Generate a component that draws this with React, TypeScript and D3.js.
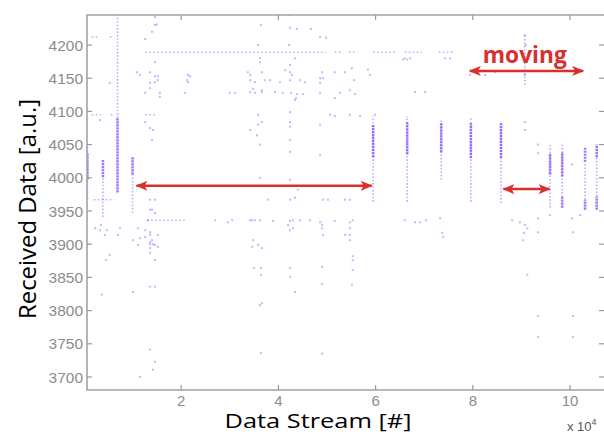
import React from 'react';
import * as d3 from 'd3';

// x in units of 10^4 samples, y in a.u.
const xTicks = [2, 4, 6, 8, 10];
const yTicks = [3700, 3750, 3800, 3850, 3900, 3950, 4000, 4050, 4100, 4150, 4200];

// dense vertical bursts: [x, yLow, yHigh]
const bursts = [
  [0.07, 3997, 4037], [0.39, 4001, 4028], [0.69, 3978, 4090], [1.0, 4005, 4031],
  [5.95, 4031, 4080], [6.65, 4035, 4084], [7.35, 4038, 4082], [7.96, 4030, 4082],
  [8.58, 4030, 4082], [9.59, 4005, 4037], [9.84, 4002, 4039], [9.84, 3955, 3971],
  [10.31, 4024, 4046], [10.31, 3952, 3967], [10.55, 4031, 4050], [10.55, 3952, 3972],
];

// sparse vertical trails: [x, yLow, yHigh]
const trails = [
  [0.07, 3967, 4050], [0.39, 3941, 4001], [0.69, 4090, 4245], [1.0, 3947, 4005],
  [5.95, 3964, 4093], [6.65, 3964, 4093], [7.35, 3997, 4088], [7.96, 3964, 4090],
  [8.58, 3962, 4085], [9.59, 3955, 4052], [9.84, 3971, 4053], [10.31, 3967, 4024],
  [10.55, 3972, 4031], [9.07, 4140, 4215],
];

// dotted horizontal rows: [y, xStart, xEnd]
const rows = [
  [4189, 1.26, 4.98], [4189, 5.16, 5.32], [4189, 5.45, 5.62], [4189, 5.95, 6.45],
  [4189, 6.6, 6.95], [4189, 7.3, 7.6], [4212, 0.16, 0.3], [4212, 0.53, 0.6],
  [4095, 0.16, 0.35], [4095, 0.55, 0.62], [4095, 1.26, 1.46], [3967, 0.2, 0.62],
  [3936, 1.3, 2.1], [4178, 6.55, 6.7],
];

// scattered single readings: [x, y]
const scatter = [
  [1.26, 4209], [1.46, 4242], [1.46, 4230], [1.5, 4231], [1.4, 4220], [1.46, 4174], [1.09, 4159],
  [1.15, 4155], [1.36, 4159], [1.46, 4153], [1.52, 4153], [0.53, 4143], [1.36, 4143], [1.46, 4144],
  [1.52, 4147], [1.36, 4135], [2.12, 4147], [2.14, 4144], [2.14, 4155], [2.18, 4153], [1.26, 4128],
  [1.56, 4128], [1.56, 4122], [2.08, 4128], [3.0, 4128],
  [3.64, 4230], [4.22, 4245], [4.24, 4226], [4.38, 4224], [4.67, 4224], [4.86, 4212], [4.98, 4211],
  [3.58, 4200], [4.22, 4200], [3.62, 4180], [3.62, 4174], [4.34, 4180], [4.24, 4170], [3.37, 4159],
  [3.42, 4155], [3.66, 4159], [4.24, 4159], [4.28, 4155], [4.14, 4162], [4.86, 4150], [4.9, 4159],
  [5.16, 4159], [5.37, 4159], [5.56, 4147], [5.51, 4165], [5.88, 4155], [5.84, 4163], [4.86, 4143],
  [3.42, 4147], [3.52, 4144], [3.72, 4147], [3.83, 4147], [4.03, 4144], [4.24, 4147], [4.44, 4147],
  [4.55, 4144], [4.92, 4150],
  [3.11, 4128], [3.42, 4129], [3.52, 4128], [3.66, 4129], [3.93, 4129], [4.09, 4128], [4.26, 4128],
  [4.38, 4126], [4.51, 4126], [4.86, 4128], [5.27, 4128], [5.58, 4126], [3.48, 4134], [3.66, 4132],
  [4.34, 4117], [4.36, 4120], [5.16, 4120], [5.47, 4132],
  [3.58, 4095], [4.24, 4099], [5.06, 4095], [5.16, 4093], [5.47, 4095], [5.68, 4093], [5.99, 4095],
  [0.33, 4087], [1.26, 4084], [1.36, 4075], [1.42, 4072], [1.4, 4057],
  [1.36, 3967], [1.46, 3967], [1.36, 3952], [1.4, 3952], [1.46, 3947], [1.32, 3936], [1.26, 3921],
  [1.36, 3918], [2.7, 3936], [3.05, 3936],
  [0.23, 3924], [0.33, 3921], [0.35, 3929], [0.47, 3921], [0.74, 3924], [0.7, 3914], [1.11, 3924],
  [1.15, 3909], [1.26, 3911], [1.36, 3903], [1.46, 3899], [1.36, 3894], [1.52, 3896], [1.4, 3906],
  [1.52, 3914], [1.36, 3900], [1.42, 3900], [1.36, 3914], [1.01, 3906], [1.11, 3899], [0.43, 3914],
  [0.45, 3876], [0.53, 3884], [1.36, 3887], [1.46, 3876], [1.36, 3836], [1.46, 3836], [1.01, 3828],
  [0.37, 3824], [1.36, 3741], [1.46, 3723], [1.42, 3711], [1.15, 3700],
  [3.42, 4072], [3.56, 4064], [3.58, 4080], [3.66, 4084], [4.24, 4084], [4.24, 4077], [4.86, 4080],
  [3.62, 4050], [4.24, 4057], [4.24, 4039], [4.86, 4034], [3.62, 4000], [4.24, 3997], [4.4, 3982],
  [4.24, 3967], [4.34, 3970], [4.92, 3967], [5.02, 3967], [5.37, 3967], [5.47, 3967], [3.79, 3967],
  [2.96, 3933], [3.46, 3936], [3.62, 3936], [3.89, 3935], [4.24, 3935], [4.3, 3936], [4.86, 3933],
  [5.16, 3935], [5.47, 3933], [5.53, 3936], [3.42, 3936], [3.52, 3936], [4.44, 3936], [4.65, 3936],
  [4.2, 3929], [4.24, 3921], [4.3, 3924], [4.9, 3929], [4.9, 3924], [4.92, 3914], [5.47, 3924],
  [5.47, 3914], [5.47, 3906], [5.37, 3914], [3.48, 3906], [3.58, 3899], [3.46, 3896], [3.66, 3894],
  [3.5, 3864], [3.64, 3864], [4.24, 3864], [4.9, 3866], [5.53, 3882], [5.53, 3876], [3.64, 3854],
  [4.24, 3851], [4.9, 3840], [5.51, 3839], [5.53, 3861], [4.34, 3828], [3.62, 3808], [3.66, 3811],
  [3.64, 3736], [4.9, 3735],
  [6.6, 4180], [6.71, 4180], [7.43, 4180], [7.53, 4180], [9.07, 4215], [9.09, 4200], [9.07, 4162],
  [9.07, 4155], [7.94, 4155], [8.25, 4155], [8.46, 4159], [6.81, 4129], [7.02, 4129], [9.9, 4174],
  [9.07, 4084], [9.07, 4072], [9.34, 4050], [9.34, 4037], [10.04, 4020],
  [6.6, 3936], [6.81, 3933], [6.91, 3933], [7.04, 3936], [7.33, 3939], [7.37, 3917], [7.39, 3911],
  [8.81, 3936], [8.97, 3933], [9.07, 3929], [9.12, 3924], [9.05, 3917], [9.03, 3906], [9.34, 3939],
  [9.34, 3918], [9.59, 3944], [10.04, 3939], [10.06, 3918], [10.21, 3944],
  [9.12, 3854], [9.34, 3792], [10.06, 3792], [9.34, 3760], [10.06, 3760],
];

// red annotation arrows: [xStart, xEnd, y]
const arrows = [[1.08, 5.92, 3988], [7.94, 10.27, 4161], [8.63, 9.58, 3983]];

const W = 604, H = 435;
const left = 87, top = 15, right = 605, bottom = 390;
const purple = '#7a44ff';
const red = '#d8302d';
const gray = '#8c8c8c';

export default function App() {
  const x = d3.scaleLinear().domain([0.062, 10.72]).range([left, right]);
  const y = d3.scaleLinear().domain([3680.4, 4245.2]).range([bottom, top]);

  return (
    <svg width={W} height={H} style={{ position: 'absolute', left: 0, top: 0, background: '#fff' }}
      fontFamily="'Liberation Sans', Arial, sans-serif">
      <defs>
        <marker id="head" viewBox="0 0 12 10" refX="11" refY="5" markerWidth="12" markerHeight="10"
          markerUnits="userSpaceOnUse" orient="auto-start-reverse">
          <path d="M0,0 L12,5 L0,10 L3,5 Z" fill={red} />
        </marker>
        <clipPath id="plot">
          <rect x={left} y={top} width={right - left} height={bottom - top} />
        </clipPath>
      </defs>

      <g clipPath="url(#plot)">
        {rows.map(([yy, x0, x1], i) => (
          <line key={'r' + i} x1={x(x0)} x2={x(x1)} y1={y(yy)} y2={y(yy)}
            stroke={purple} strokeOpacity={0.45} strokeWidth={1.6} strokeDasharray="1.6 2.4" />
        ))}
        {trails.map(([xx, y0, y1], i) => (
          <line key={'t' + i} x1={x(xx)} x2={x(xx)} y1={y(y0)} y2={y(y1)}
            stroke={purple} strokeOpacity={0.45} strokeWidth={1.6} strokeDasharray="1.6 1.8" />
        ))}
        {bursts.map(([xx, y0, y1], i) => (
          <line key={'b' + i} x1={x(xx)} x2={x(xx)} y1={y(y0)} y2={y(y1)}
            stroke={purple} strokeOpacity={0.72} strokeWidth={2.6} strokeDasharray="2.2 0.8" />
        ))}
        {scatter.map(([xx, yy], i) => (
          <rect key={'s' + i} x={x(xx) - 1} y={y(yy) - 1} width={2} height={2}
            fill={purple} fillOpacity={0.4} />
        ))}
      </g>

      {/* frame */}
      <path d={`M${right},${top}H${left}V${bottom}H${right}`} fill="none" stroke="#a3a3a3" strokeWidth={1.6} />
      {yTicks.map(t => (
        <g key={'yt' + t}>
          <line x1={left} x2={left + 5} y1={y(t)} y2={y(t)} stroke="#999" strokeWidth={1.2} />
          <line x1={right - 6} x2={right} y1={y(t)} y2={y(t)} stroke="#999" strokeWidth={1.2} />
          <text x={left - 4} y={y(t)} dy="0.36em" textAnchor="end" fontSize={15.5} fill={gray}>{t}</text>
        </g>
      ))}
      {xTicks.map(t => (
        <g key={'xt' + t}>
          <line x1={x(t)} x2={x(t)} y1={bottom} y2={bottom - 5} stroke="#999" strokeWidth={1.2} />
          <line x1={x(t)} x2={x(t)} y1={top} y2={top + 5} stroke="#999" strokeWidth={1.2} />
          <text x={x(t)} y={bottom + 16} textAnchor="middle" fontSize={15} fill={gray}>{t}</text>
        </g>
      ))}
      <text x={567} y={431} fontSize={13} fill="#555">x 10<tspan dy={-6} fontSize={9}>4</tspan></text>

      {/* axis titles */}
      <text x={318} y={428} textAnchor="middle" fontSize={20} fill="#000"
        fontFamily="'Open Sans', sans-serif" textLength={187} lengthAdjust="spacingAndGlyphs">Data Stream [#]</text>
      <text transform="translate(36,209) rotate(-90)" textAnchor="middle" fontSize={23} fill="#000"
        fontFamily="'Open Sans', sans-serif" textLength={220} lengthAdjust="spacingAndGlyphs">Received Data [a.u.]</text>

      {/* annotations */}
      {arrows.map(([x0, x1, yy], i) => (
        <line key={'a' + i} x1={x(x0)} x2={x(x1)} y1={y(yy)} y2={y(yy)} stroke={red} strokeWidth={2.5}
          markerStart="url(#head)" markerEnd="url(#head)" />
      ))}
      <text x={x(9.07)} y={y(4173)} textAnchor="middle" fontSize={24} fontWeight="bold" fill={red}
        fontFamily="'Open Sans', sans-serif" textLength={84} lengthAdjust="spacingAndGlyphs">moving</text>
    </svg>
  );
}
